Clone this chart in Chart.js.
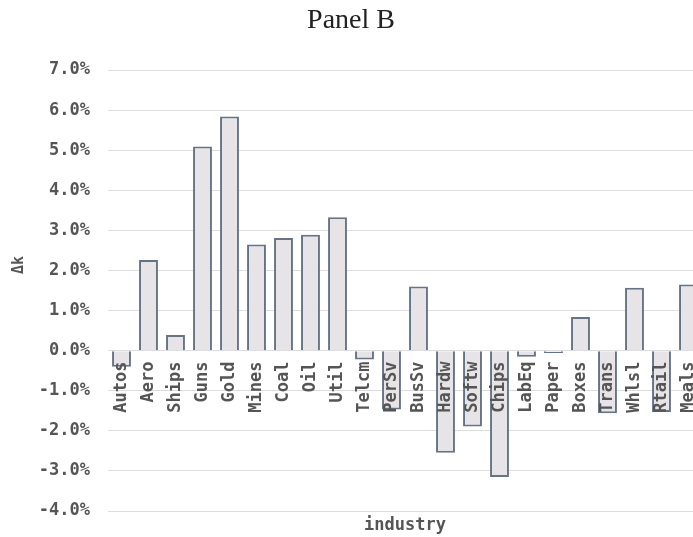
<!DOCTYPE html>
<html>
<head>
<meta charset="utf-8">
<script src="https://cdn.jsdelivr.net/npm/chart.js@4/dist/chart.umd.min.js"></script>
<style>
  html, body { margin: 0; padding: 0; background: #fff; overflow: hidden; }
  #wrap { position: relative; width: 693px; height: 537px; overflow: hidden; }
  #c { position: absolute; left: 0; top: 0; }
  #ylab { position: absolute; left: 18px; top: 265px; transform: translate(-50%, -50%) rotate(-90deg);
          font: bold 15px "DejaVu Sans Mono", monospace; color: #555; white-space: nowrap; }
</style>
</head>
<body>
<div id="wrap">
  <canvas id="c" width="704" height="537"></canvas>
  <div id="ylab">Δk</div>
</div>
<script>
const industries = ["Autos","Aero","Ships","Guns","Gold","Mines","Coal","Oil","Util","Telcm","PerSv","BusSv","Hardw","Softw","Chips","LabEq","Paper","Boxes","Trans","Whlsl","Rtail","Meals"];
const deltaK = [-0.40, 2.26, 0.39, 5.09, 5.84, 2.65, 2.81, 2.89, 3.33, -0.22, -1.47, 1.60, -2.55, -1.89, -3.15, -0.15, -0.06, 0.84, -1.56, 1.57, -1.53, 1.65];
const yTicks = [-4, -3, -2, -1, 0, 1, 2, 3, 4, 5, 6, 7];
const chartTitle = "Panel B";
const xTitle = "industry";

const mono = "'DejaVu Sans Mono', monospace";
const tickColor = "#555555";

new Chart(document.getElementById('c'), {
  type: 'bar',
  data: {
    labels: industries,
    datasets: [{
      data: deltaK,
      backgroundColor: '#e6e4e6',
      borderColor: '#667387',
      borderWidth: 2,
      barPercentage: 0.7,
      categoryPercentage: 1.0,
      xAxisID: 'x',
      yAxisID: 'y'
    }]
  },
  options: {
    responsive: false,
    animation: false,
    layout: { padding: { left: 0, right: 2, top: 0, bottom: 0 } },
    plugins: {
      legend: { display: false },
      tooltip: { enabled: false },
      title: {
        display: true,
        text: chartTitle,
        color: '#222',
        font: { family: "'Liberation Serif', serif", size: 28, weight: 'normal' },
        padding: { top: 4, bottom: 32.4 }
      }
    },
    scales: {
      y: {
        min: -4, max: 7,
        afterBuildTicks: s => { s.ticks = yTicks.map(v => ({ value: v })); },
        afterFit: s => { s.width = 108; s.paddingBottom = 0; s.paddingTop = 0; },
        grid: { color: '#dddddd', lineWidth: 1, drawTicks: false },
        border: { display: false },
        ticks: {
          color: tickColor,
          padding: 18,
          font: { family: mono, size: 17, weight: 'bold' },
          callback: v => v.toFixed(1) + '%'
        }
      },
      x: {
        position: { y: 0 },
        grid: { display: false, drawTicks: false },
        border: { display: false },
        afterFit: s => { s.paddingLeft = 0; s.paddingRight = 0; s.paddingTop = 0; s.paddingBottom = 0; },
        ticks: {
          z: 1,
          color: tickColor,
          padding: 11,
          minRotation: 90, maxRotation: 90,
          autoSkip: false,
          font: { family: mono, size: 17, weight: 'bold' }
        }
      },
      x2: {
        type: 'category',
        labels: industries,
        position: 'bottom',
        afterFit: s => { s.height = 26; },
        grid: { display: false, drawTicks: false },
        border: { display: false },
        ticks: { display: false },
        title: {
          display: true,
          text: xTitle,
          color: tickColor,
          font: { family: mono, size: 17, weight: 'bold' },
          padding: { top: 2, bottom: 1 }
        }
      }
    }
  }
});
</script>
</body>
</html>
